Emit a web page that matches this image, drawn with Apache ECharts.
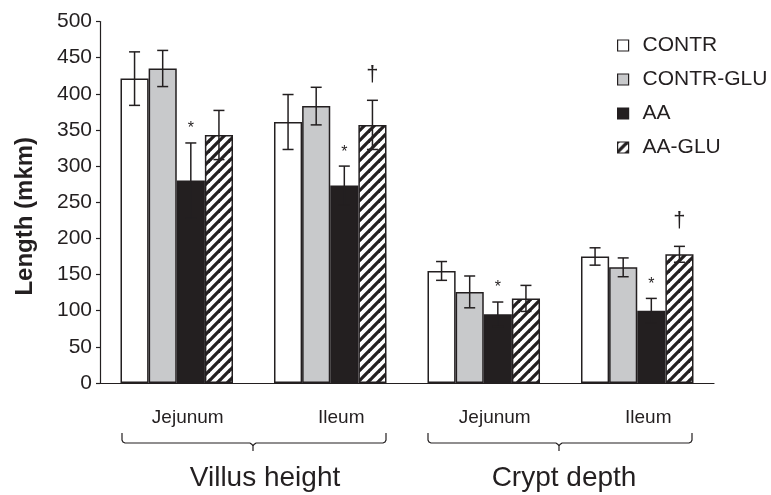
<!DOCTYPE html>
<html>
<head>
<meta charset="utf-8">
<script src="https://cdn.jsdelivr.net/npm/echarts@6/dist/echarts.min.js"></script>
<style>
html,body{margin:0;padding:0;background:#fff;}
#chart{width:771px;height:495px;}
</style>
</head>
<body>
<div id="chart"></div>
<script>
// ---- data ----
const categories = ['Jejunum', 'Ileum', 'Jejunum', 'Ileum'];
const seriesNames = ['CONTR', 'CONTR-GLU', 'AA', 'AA-GLU'];
const contrMean = [421, 361, 155, 175];
const contrSd = [37, 38, 13, 12];
const contrGluMean = [435, 383, 126, 160];
const contrGluSd = [25, 26, 22, 13];
const aaMean = [280, 273, 95, 100];
const aaSd = [52, 27, 17, 17];
const aaGluMean = [343, 357, 117, 178];
const aaGluSd = [34, 34, 18, 11];
const aaMarks = ['*', '*', '*', '*'];
const aaGluMarks = ['', '\u2020', '', '\u2020'];
const yTicks = [0, 50, 100, 150, 200, 250, 300, 350, 400, 450, 500];
const groupLabels = ['Villus height', 'Crypt depth'];

const INK = '#231f20';
const FONT = 'Liberation Sans, Arial, sans-serif';
const means = [contrMean, contrGluMean, aaMean, aaGluMean];
const sds = [contrSd, contrGluSd, aaSd, aaGluSd];
const marks = [null, null, aaMarks, aaGluMarks];

// hatch pattern
const pc = document.createElement('canvas');
pc.width = 10; pc.height = 10;
const pctx = pc.getContext('2d');
pctx.fillStyle = '#fff';
pctx.fillRect(0, 0, 10, 10);
pctx.strokeStyle = INK;
pctx.lineWidth = 3.3;
for (const k of [-10, 0, 10]) {
  pctx.beginPath();
  pctx.moveTo(k - 1, 11);
  pctx.lineTo(k + 11, -1);
  pctx.stroke();
}
const fills = ['#ffffff', '#c8c9cb', INK, { image: pc, repeat: 'repeat' }];

const CAT_GAP = 0.267;
const errData = [];
for (let s = 0; s < 4; s++) {
  for (let c = 0; c < 4; c++) {
    errData.push([c, means[s][c], sds[s][c], s, marks[s] ? marks[s][c] : '']);
  }
}

const barSeries = seriesNames.map((name, s) => ({
  name: name,
  type: 'bar',
  data: means[s],
  barGap: '0%',
  barCategoryGap: (CAT_GAP * 100) + '%',
  itemStyle: { color: fills[s], borderColor: INK, borderWidth: 1.5 },
  emphasis: { disabled: true },
  z: 2
}));

const errSeries = {
  type: 'custom',
  data: errData.map(d => d.slice(0, 4)),
  encode: { x: 0, y: 1 },
  z: 5,
  silent: true,
  renderItem: function (params, api) {
    const c = api.value(0), m = api.value(1), sd = api.value(2), s = api.value(3);
    const mk = errData[params.dataIndex][4];
    const band = api.size([1, 0])[0];
    const bw = band * (1 - CAT_GAP) / 4;
    const center = api.coord([c, m]);
    const x = center[0] + (s - 1.5) * bw;
    const yTop = api.coord([c, m + sd])[1];
    const yBot = api.coord([c, m - sd])[1];
    const cap = 5.5;
    const st = { stroke: INK, lineWidth: 1.5 };
    const children = [
      { type: 'line', shape: { x1: x, y1: yTop, x2: x, y2: yBot }, style: st },
      { type: 'line', shape: { x1: x - cap, y1: yTop, x2: x + cap, y2: yTop }, style: st },
      { type: 'line', shape: { x1: x - cap, y1: yBot, x2: x + cap, y2: yBot }, style: st }
    ];
    if (mk) {
      const dagger = mk !== '*';
      children.push({
        type: 'text',
        style: {
          text: mk, x: x, y: yTop - (dagger ? 25 : 14),
          align: 'center', verticalAlign: 'middle',
          fontFamily: FONT,
          fontSize: dagger ? 22 : 16, fill: INK
        }
      });
    }
    return { type: 'group', children: children };
  }
};

const chart = echarts.init(document.getElementById('chart'), null, { renderer: 'canvas' });

const braceY = 443;
function brace(x1, xm, x2) {
  const y = braceY;
  return {
    type: 'polyline',
    shape: {
      points: [
        [x1, y - 10], [x1, y - 3], [x1 + 1, y - 1], [x1 + 3, y],
        [xm - 3, y], [xm - 1, y + 1.5], [xm, y + 3], [xm, y + 8], [xm, y + 3], [xm + 1, y + 1.5], [xm + 3, y],
        [x2 - 3, y], [x2 - 1, y - 1], [x2, y - 3], [x2, y - 10]
      ]
    },
    style: { stroke: INK, lineWidth: 1.2, fill: null }
  };
}

chart.setOption({
  animation: false,
  backgroundColor: '#ffffff',
  textStyle: { fontFamily: FONT, color: INK },
  grid: { left: 100, right: 57, top: 21.5, bottom: 112 },
  legend: {
    orient: 'vertical',
    left: 612,
    top: 30,
    icon: 'rect',
    itemWidth: 11,
    itemHeight: 11,
    itemGap: 13,
    itemStyle: { borderColor: INK, borderWidth: 1.2 },
    textStyle: { fontSize: 21, color: INK, padding: [0, 0, 0, 9] },
    data: seriesNames,
    selectedMode: false
  },
  xAxis: {
    type: 'category',
    data: categories,
    axisLine: { lineStyle: { color: INK, width: 1.2 } },
    axisTick: { length: 6, lineStyle: { color: INK, width: 1.2 } },
    axisLabel: { fontSize: 19, color: INK, margin: 25, padding: [0, 0, 0, 22] }
  },
  yAxis: {
    type: 'value',
    min: yTicks[0],
    max: yTicks[yTicks.length - 1],
    interval: yTicks[1] - yTicks[0],
    name: 'Length (mkm)',
    nameLocation: 'middle',
    nameGap: 63,
    nameRotate: 90,
    nameTextStyle: { fontSize: 24, fontWeight: 'bold', color: INK, padding: [0, 28, 0, 0] },
    splitLine: { show: false },
    axisLine: { show: true, lineStyle: { color: INK, width: 1.2 } },
    axisTick: { show: true, length: 4, lineStyle: { color: INK, width: 1.2 } },
    axisLabel: { fontSize: 21, color: INK, margin: 8 }
  },
  graphic: [
    brace(122, 253, 386),
    brace(428, 559, 692),
    { type: 'text', x: 265, y: 478, style: { text: groupLabels[0], fontSize: 28, fill: INK, align: 'center', verticalAlign: 'middle', fontFamily: FONT } },
    { type: 'text', x: 564, y: 478, style: { text: groupLabels[1], fontSize: 28, fill: INK, align: 'center', verticalAlign: 'middle', fontFamily: FONT } }
  ],
  series: barSeries.concat([errSeries])
});
</script>
</body>
</html>
